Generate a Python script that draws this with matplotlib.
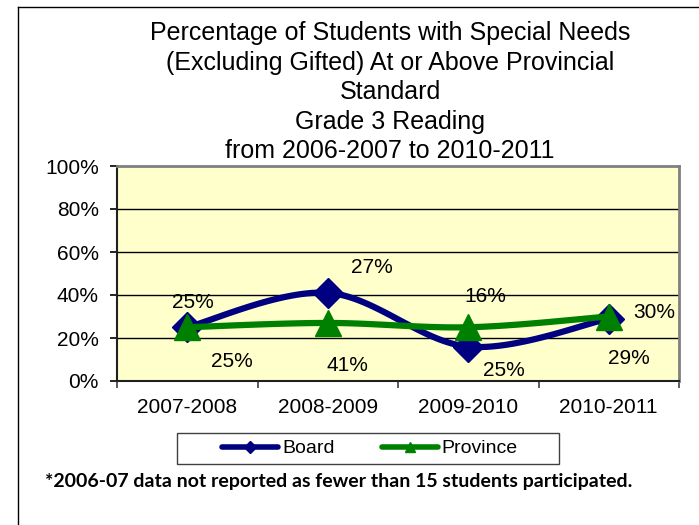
import numpy as np
import matplotlib
matplotlib.use("Agg")
import matplotlib.pyplot as plt
from matplotlib.lines import Line2D
from matplotlib.patches import Rectangle

plt.rcParams['font.family'] = ['Liberation Sans', 'DejaVu Sans']

# --- data ---
years = ['2007-2008', '2008-2009', '2009-2010', '2010-2011']
board = [25, 41, 16, 29]
province = [25, 27, 25, 30]

# label offsets (pixels) for each point, Excel left them scattered
board_offsets = [(6, 25), (20, -73), (17, 50), (20, -40)]
province_offsets = [(45, -34), (44, 55), (36, -43), (46, 4)]

title_lines = ['Percentage of Students with Special Needs',
               '(Excluding Gifted) At or Above Provincial',
               'Standard',
               'Grade 3 Reading',
               'from 2006-2007 to 2010-2011']
footnote = '*2006-07 data not reported as fewer than 15 students participated.'


def smooth(xs, ys, n=40):
    # Excel-style smoothed line: cubic Bezier through the points (Catmull-Rom)
    pts = np.column_stack([xs, ys]).astype(float)
    ext = np.vstack([pts[0], pts, pts[-1]])
    out = []
    t = np.linspace(0, 1, n)[:, None]
    for i in range(len(pts) - 1):
        p0, p1, p2, p3 = ext[i], ext[i + 1], ext[i + 2], ext[i + 3]
        c1 = p1 + (p2 - p0) / 6
        c2 = p2 - (p3 - p1) / 6
        seg = ((1 - t) ** 3) * p1 + 3 * ((1 - t) ** 2) * t * c1 + 3 * (1 - t) * t ** 2 * c2 + t ** 3 * p2
        out.append(seg if i == 0 else seg[1:])
    out = np.vstack(out)
    return out[:, 0], out[:, 1]


fig = plt.figure(figsize=(6.99, 5.25), dpi=100)
W, H = 699, 525

# outer chart frame (top and left edges show)
fig.add_artist(Line2D([18 / W, 1], [1 - 7 / H, 1 - 7 / H], color='black', lw=1))
fig.add_artist(Line2D([18 / W, 18 / W], [0, 1 - 7 / H], color='black', lw=1))

ax = fig.add_axes([117 / W, 1 - 381 / H, 562 / W, 215 / H])
ax.set_facecolor('#FFFFCC')

x = np.arange(len(years))
navy = '#000080'
green = '#008000'

bx, by = smooth(x, board)
ax.plot(bx, by, color=navy, lw=4.5, solid_capstyle='round', zorder=3)
ax.plot(x, board, 'D', color=navy, ms=15, zorder=4)

px, py = smooth(x, province)
ax.plot(px, py, color=green, lw=4.5, solid_capstyle='round', zorder=5)
ax.plot(x, province, '^', color=green, ms=19, zorder=6)

for xi, v, (dx, dy) in zip(x, board, board_offsets):
    ax.annotate(f'{v}%', (xi, v), xytext=(dx, dy), textcoords='offset pixels',
                ha='center', va='center', fontsize=15, zorder=7)
for xi, v, (dx, dy) in zip(x, province, province_offsets):
    ax.annotate(f'{v}%', (xi, v), xytext=(dx, dy), textcoords='offset pixels',
                ha='center', va='center', fontsize=15, zorder=7)

ax.set_xlim(-0.5, len(years) - 0.5)
ax.set_ylim(0, 100)
ax.set_yticks(range(0, 101, 20))
ax.set_yticklabels([f'{v}%' for v in range(0, 101, 20)])
ax.set_xticks(x)
ax.set_xticklabels(years)
ax.set_xticks(np.arange(-0.5, len(years), 1), minor=True)
ax.tick_params(axis='x', which='major', length=0, pad=12, labelsize=15)
ax.tick_params(axis='x', which='minor', length=5, width=1.2, color='#404040')
ax.tick_params(axis='y', length=5, width=1.2, pad=8, labelsize=15)

for yv in range(20, 100, 20):
    ax.axhline(yv, color='black', lw=1, zorder=1)

for side in ('top', 'right'):
    ax.spines[side].set_color('#808080')
    ax.spines[side].set_linewidth(2)
for side in ('left', 'bottom'):
    ax.spines[side].set_color('#202020')
    ax.spines[side].set_linewidth(1.5)

fig.text(390 / W, 1 - 21 / H, '\n'.join(title_lines), ha='center', va='top',
         fontsize=18, linespacing=1.29)

# legend: entries without frame, box drawn separately
handles = [Line2D([], [], color=navy, lw=4, marker='D', ms=6, solid_capstyle='round'),
           Line2D([], [], color=green, lw=4, marker='^', ms=7, solid_capstyle='round')]
leg = fig.legend(handles, ['Board', 'Province'], loc='center',
                 bbox_to_anchor=(370 / W, 1 - 448.5 / H), ncol=2, fontsize=14,
                 frameon=False, handlelength=2.9, handletextpad=0.2,
                 columnspacing=2.4, borderpad=0.2)
fig.add_artist(Rectangle((177 / W, 1 - 464 / H), 382 / W, 31 / H,
                         transform=fig.transFigure, fill=False,
                         edgecolor='#404040', lw=1))

fig.text(45 / W, 1 - 482 / H, footnote, ha='left', va='center', fontsize=14,
         fontweight='bold', family=['Lato', 'DejaVu Sans'])

fig.savefig('out.png', dpi=100)
